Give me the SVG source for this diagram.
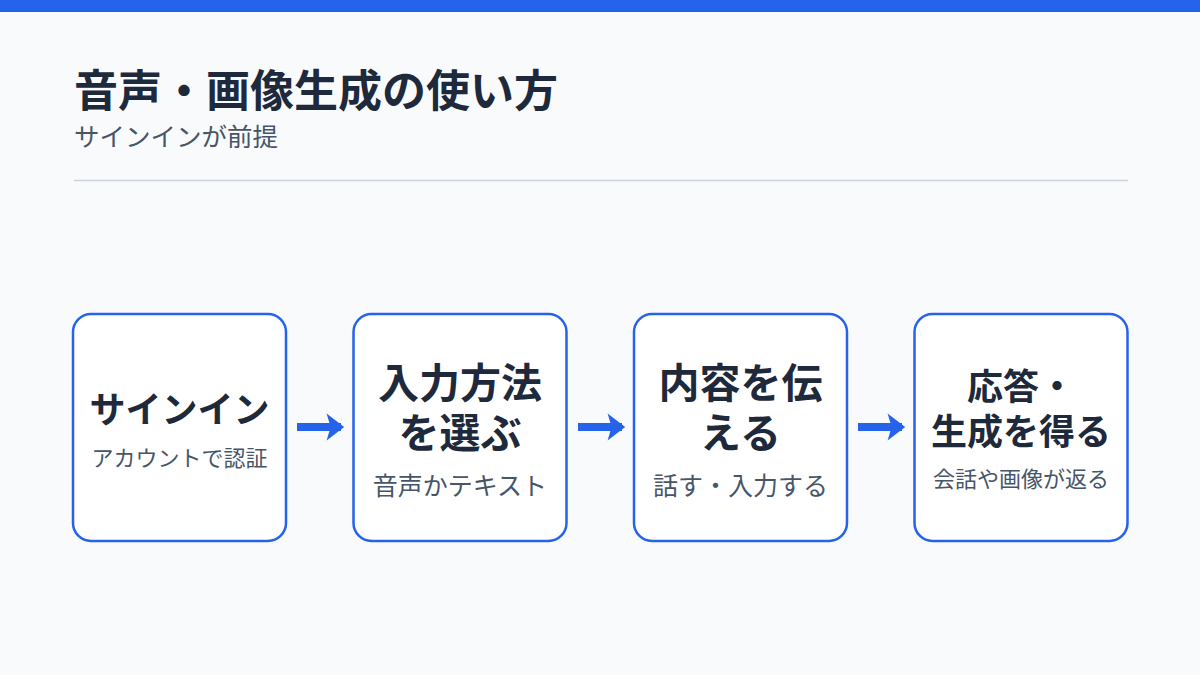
<svg xmlns="http://www.w3.org/2000/svg" width="1200" height="675" viewBox="0 0 1200 675">
<style>
.jp{font-family:"Noto Sans CJK JP","Noto Sans",sans-serif}
.h{font-weight:700;fill:#1E293B}
.s{font-weight:400;fill:#475569}
.box{fill:#FFFFFF;stroke:#2563EB;stroke-width:2.5}
.conn{stroke:#2563EB;stroke-width:8;fill:none}
</style>
<defs>
<marker id="ah" markerWidth="4" markerHeight="4" refX="2.2" refY="2" orient="auto" markerUnits="strokeWidth">
<path d="M0.4,0.3 L2.6,2 L0.4,3.7 L0.9,2 Z" fill="#2563EB"/>
</marker>
</defs>
<rect x="0" y="0" width="1200" height="675" fill="#F8FAFC"/>
<rect x="0" y="0" width="1200" height="12" fill="#2563EB"/>
<g id="header">
<text x="74" y="107" class="jp h" font-size="44">音声・画像生成の使い方</text>
<text x="74" y="146" class="jp s" font-size="25.5">サインインが前提</text>
<line x1="74" y1="180.5" x2="1128" y2="180.5" stroke="#CBD5E1" stroke-width="1.5"/>
</g>
<g id="connectors">
<line class="conn" x1="297" y1="427" x2="341" y2="427" marker-end="url(#ah)"/>
<line class="conn" x1="578" y1="427" x2="622" y2="427" marker-end="url(#ah)"/>
<line class="conn" x1="858" y1="427" x2="902" y2="427" marker-end="url(#ah)"/>
</g>
<g id="node1">
<rect class="box" x="73" y="314" width="213" height="227" rx="18"/>
<text x="179.5" y="423" text-anchor="middle" class="jp h" font-size="36">サインイン</text>
<text x="179.5" y="466" text-anchor="middle" class="jp s" font-size="22">アカウントで認証</text>
</g>
<g id="node2">
<rect class="box" x="353.5" y="314" width="213" height="227" rx="18"/>
<text x="460" y="398" text-anchor="middle" class="jp h" font-size="41">入力方法</text>
<text x="460" y="448" text-anchor="middle" class="jp h" font-size="41">を選ぶ</text>
<text x="460" y="495" text-anchor="middle" class="jp s" font-size="25">音声かテキスト</text>
</g>
<g id="node3">
<rect class="box" x="634" y="314" width="213" height="227" rx="18"/>
<text x="740.5" y="398" text-anchor="middle" class="jp h" font-size="41">内容を伝</text>
<text x="740.5" y="448" text-anchor="middle" class="jp h" font-size="41">える</text>
<text x="740.5" y="495" text-anchor="middle" class="jp s" font-size="25">話す・入力する</text>
</g>
<g id="node4">
<rect class="box" x="914.5" y="314" width="213" height="227" rx="18"/>
<text x="1021" y="400" text-anchor="middle" class="jp h" font-size="36">応答・</text>
<text x="1021" y="445" text-anchor="middle" class="jp h" font-size="36">生成を得る</text>
<text x="1021" y="487" text-anchor="middle" class="jp s" font-size="22">会話や画像が返る</text>
</g>
</svg>
